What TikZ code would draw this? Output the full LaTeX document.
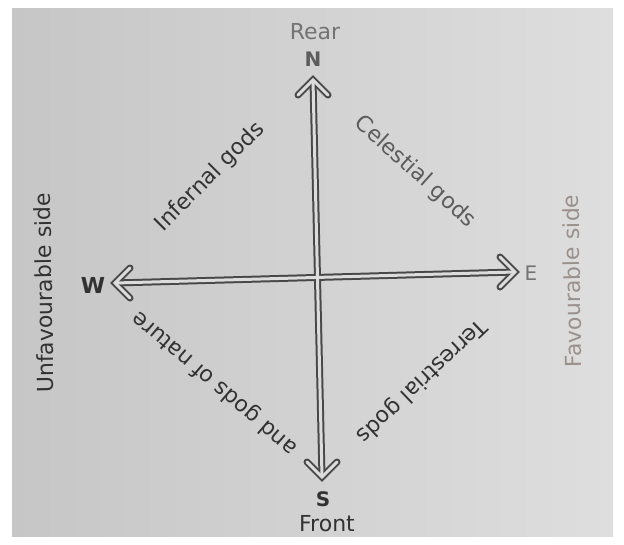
\documentclass[tikz,border=0pt]{standalone}
\usepackage{fontspec}
\setmainfont{DejaVu Sans}
\definecolor{bgL}{RGB}{198,198,198}
\definecolor{bgR}{RGB}{222,222,222}
\definecolor{lineC}{RGB}{72,72,72}
\definecolor{chanC}{RGB}{220,220,220}
\definecolor{darkT}{RGB}{50,50,50}
\definecolor{midT}{RGB}{92,92,92}
\definecolor{lightT}{RGB}{115,115,115}
\definecolor{favT}{RGB}{155,145,140}
\begin{document}
\begin{tikzpicture}[x=1pt,y=-1pt,
  outerline/.style={draw=lineC, line width=7pt, line join=miter},
  innerline/.style={draw=chanC, line width=3pt, line join=miter},
  lab/.style={inner sep=0pt, font=\fontsize{22}{26}\selectfont},
  blab/.style={inner sep=0pt, font=\fontsize{20}{24}\selectfont\bfseries},
]
\useasboundingbox (0,0) rectangle (624,544);
\fill[white] (0,0) rectangle (624,544);
\shade[left color=bgL, right color=bgR] (12,8) rectangle (613,536);

% arrow tips (centre line) and chevron arm ends
\coordinate (Ntip) at (313,80);
\coordinate (Na1) at (298,95);
\coordinate (Na2) at (328,95);
\coordinate (Stip) at (322,477);
\coordinate (Sa1) at (307,462);
\coordinate (Sa2) at (337,462);
\coordinate (Wtip) at (115,283);
\coordinate (Wa1) at (130,268);
\coordinate (Wa2) at (130,298);
\coordinate (Etip) at (515,272);
\coordinate (Ea1) at (500,257);
\coordinate (Ea2) at (500,287);

% dark outlines
\draw[outerline] (Ntip) -- (Stip);
\draw[outerline] (Wtip) -- (Etip);
\draw[outerline, line cap=round] (Na1) -- (Ntip) -- (Na2);
\draw[outerline, line cap=round] (Sa1) -- (Stip) -- (Sa2);
\draw[outerline, line cap=round] (Wa1) -- (Wtip) -- (Wa2);
\draw[outerline, line cap=round] (Ea1) -- (Etip) -- (Ea2);
% light channels
\draw[innerline] (Ntip) -- (Stip);
\draw[innerline] (Wtip) -- (Etip);
\draw[innerline, line cap=round] (Na1) -- (Ntip) -- (Na2);
\draw[innerline, line cap=round] (Sa1) -- (Stip) -- (Sa2);
\draw[innerline, line cap=round] (Wa1) -- (Wtip) -- (Wa2);
\draw[innerline, line cap=round] (Ea1) -- (Etip) -- (Ea2);

% cardinal letters
\node[blab, text=midT] (n) at (313,59) {N};
\node[blab, text=darkT] (s) at (323,499) {S};
\node[blab, text=darkT, font=\fontsize{22}{26}\selectfont\bfseries] (w) at (93,285) {W};
\node[lab, text=lightT, font=\fontsize{20}{24}\selectfont] (e) at (531,273) {E};

% side labels
\node[lab, text=lightT] (rear) at (315,32) {Rear};
\node[lab, text=darkT] (front) at (327,524) {Front};
\node[lab, text=darkT, rotate=91] (unfav) at (44,293) {Unfavourable side};
\node[lab, text=favT, rotate=91] (fav) at (572,281) {Favourable side};

% quadrant labels
\node[lab, text=darkT, rotate=45] (infernal) at (210,177) {Infernal gods};
\node[lab, text=midT, rotate=-42] (celestial) at (415,172) {Celestial gods};
\node[lab, text=darkT, rotate=139.5] (nature) at (215,383) {and gods of nature};
\node[lab, text=darkT, rotate=223.5] (terrestrial) at (421,381) {Terrestrial gods};
\end{tikzpicture}
\end{document}
